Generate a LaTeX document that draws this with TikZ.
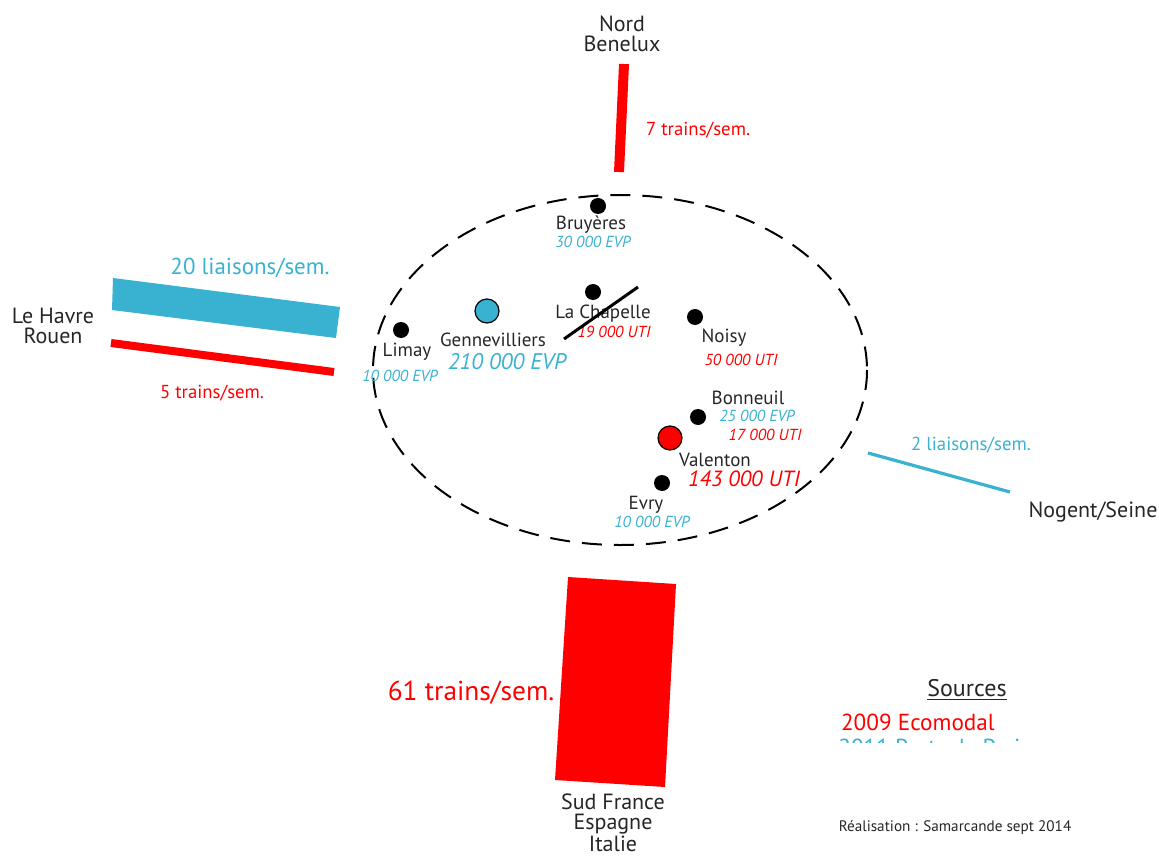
\documentclass[tikz,border=0pt]{standalone}
\usepackage{fontspec}
\setmainfont{PT Sans}
\definecolor{bleu}{RGB}{56,178,208}
\definecolor{rouge}{RGB}{255,0,0}
\begin{document}
\begin{tikzpicture}[x=0.5pt,y=-0.5pt,
    dot/.style={circle,fill=black,inner sep=0pt,minimum size=8pt},
    hub/.style={circle,draw=black,line width=0.6pt,inner sep=0pt,minimum size=12pt},
    ville/.style={font=\fontsize{9.5}{10}\selectfont,text=black!85},
    bout/.style={font=\fontsize{11}{10}\selectfont,text=black!85,align=center},
    evp/.style={font=\fontsize{8}{8}\selectfont\itshape,text=bleu},
    uti/.style={font=\fontsize{8}{8}\selectfont\itshape,text=rouge},
    flux/.style={font=\fontsize{9.4}{10}\selectfont}]
\useasboundingbox (0,0) rectangle (1159,855);
% zone ile-de-france
\draw[line width=1pt,dash pattern=on 10pt off 6pt] (620,370) ellipse [x radius=247,y radius=175];
% nord
\node[bout] (nord) at (622,34) {Nord\\Benelux};
\draw[rouge,line width=5pt] (624,64) -- (619,172);
\node[flux,text=rouge,anchor=west] (fnord) at (639,130) {7 trains/sem.};
% le havre
\node[bout] (havre) at (53,326) {Le Havre\\Rouen};
\fill[bleu] (113,278) -- (340,307) -- (336,338) -- (112,310) -- cycle;
\draw[rouge,line width=4pt] (111,343) -- (334,372);
\node[flux,text=bleu,font=\fontsize{11.5}{12}\selectfont] (fhavre1) at (250,268) {20 liaisons/sem.};
\node[flux,text=rouge] (fhavre2) at (212,393) {5 trains/sem.};
% nogent
\draw[bleu,line width=1.6pt] (868,453) -- (1010,492);
\node[flux,text=bleu] (fnogent) at (971,445) {2 liaisons/sem.};
\node[bout] (nogent) at (1093,512) {Nogent/Seine};
% sud
\fill[rouge] (568,577) -- (676,584) -- (665,787) -- (555,780) -- cycle;
\node[text=rouge,font=\fontsize{13.7}{14}\selectfont] (fsud) at (471,693) {61 trains/sem.};
\node[bout,font=\fontsize{11}{9.6}\selectfont,inner sep=0pt] (sud) at (613,823) {Sud France\\Espagne\\Italie};
% terminaux
\node[dot] (bruyeres) at (598,206) {};
\node[ville] at (591,225) {Bruyères};
\node[evp] at (593,242) {30 000 EVP};
\node[dot] (chapelle) at (593,292) {};
\node[ville] at (603,314) {La Chapelle};
\node[uti] at (614,332) {19 000 UTI};
\draw[line width=1.5pt] (564,339) -- (638,287);
\node[hub,fill=bleu] (genne) at (487,311) {};
\node[ville] at (493,340) {Gennevilliers};
\node[evp,font=\fontsize{11.3}{12}\selectfont\itshape] at (507,362) {210 000 EVP};
\node[dot] (noisy) at (695,317) {};
\node[ville] at (724,338) {Noisy};
\node[uti] at (741,360) {50 000 UTI};
\node[dot] (limay) at (401,330) {};
\node[ville] at (407,352) {Limay};
\node[evp] at (400,376) {10 000 EVP};
\node[dot] (bonneuil) at (698,417) {};
\node[ville] at (748,398) {Bonneuil};
\node[evp] at (757,416) {25 000 EVP};
\node[uti] at (765,435) {17 000 UTI};
\node[hub,fill=rouge] (valenton) at (670,438) {};
\node[ville] at (715,460) {Valenton};
\node[uti,font=\fontsize{11}{12}\selectfont\itshape] at (744,479) {143 000 UTI};
\node[dot] (evry) at (662,483) {};
\node[ville] at (646,505) {Evry};
\node[evp] at (652,522) {10 000 EVP};
% sources
\node[font=\fontsize{12}{12}\selectfont,text=black!85] (sources) at (967,690) {\underline{Sources}};
\node[font=\fontsize{11.6}{12}\selectfont,text=rouge,anchor=west] (eco) at (834,722) {2009 Ecomodal};
\begin{scope}
  \clip (800,700) rectangle (1100,742);
  \node[font=\fontsize{11.6}{12}\selectfont,text=bleu,anchor=base west,inner sep=0pt] (ports) at (838,755) {2011 Ports de Paris};
\end{scope}
\node[font=\fontsize{7.6}{8}\selectfont,text=black!85] (real) at (955,828) {Réalisation : Samarcande sept 2014};
\end{tikzpicture}
\end{document}
